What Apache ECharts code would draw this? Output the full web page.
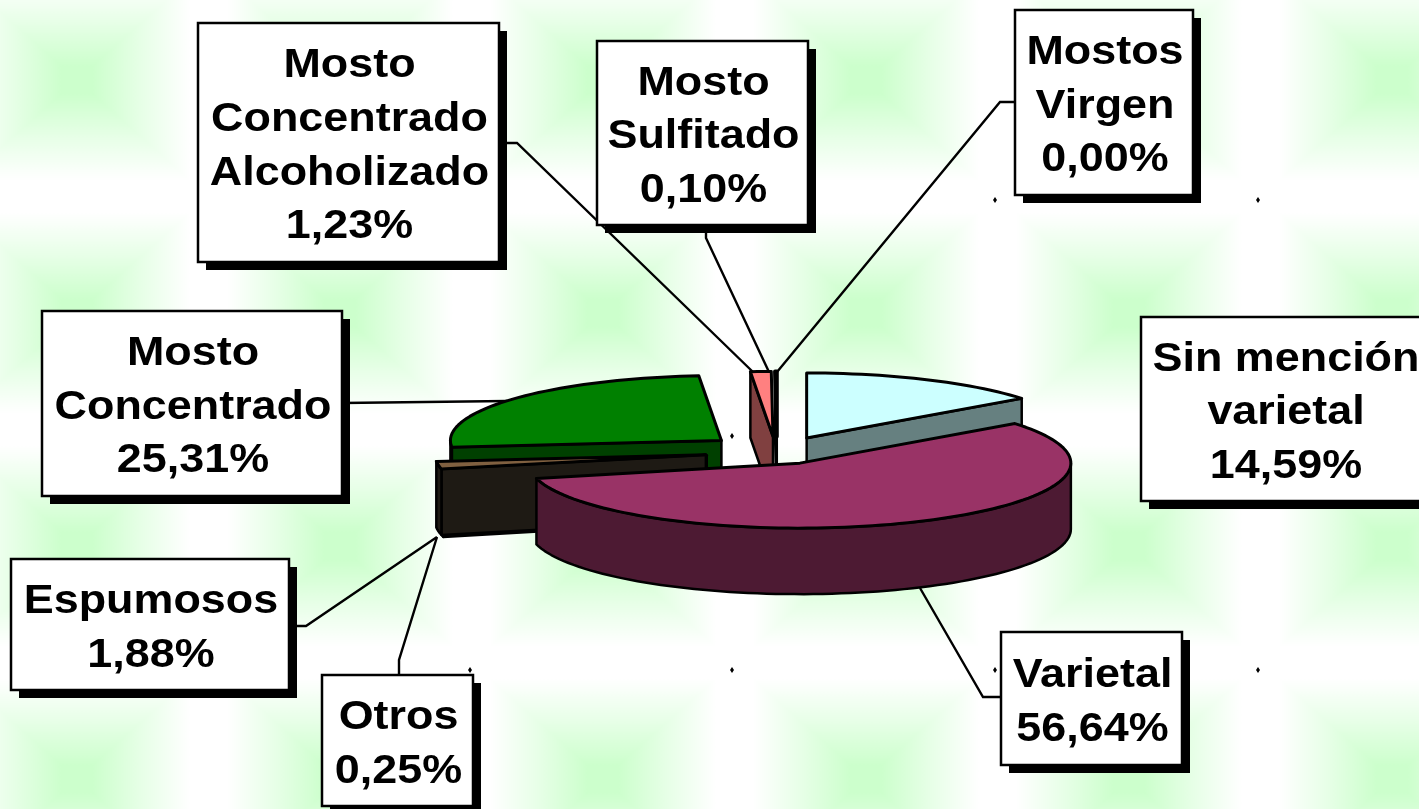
<!DOCTYPE html>
<html>
<head>
<meta charset="utf-8">
<title>Mostos</title>
<script src="https://cdn.jsdelivr.net/npm/echarts@6/dist/echarts.min.js"></script>
<style>
    html, body { margin: 0; padding: 0; overflow: hidden; }
    body {
        width: 1419px; height: 809px;
        background-color: #fff;
        background-image:
            linear-gradient(to right, #fff 7%, #e6ffe6 26%, #ccffcc 44%, #ccffcc 56%, #e6ffe6 74%, #fff 93%),
            linear-gradient(to bottom, #fff 7%, #e6ffe6 26%, #ccffcc 44%, #ccffcc 56%, #e6ffe6 74%, #fff 93%);
        background-blend-mode: lighten, normal;
        background-size: 263px 233px;
        background-position: -54.5px -36.5px;
    }
    #main { width: 1419px; height: 809px; }
</style>
</head>
<body>
<div id="main"></div>
<script>
    // datos, en el orden de la torta (desde las 12 en sentido horario)
    var categories = ['Sin mención\nvarietal', 'Varietal', 'Otros', 'Espumosos', 'Mosto\nConcentrado',
        'Mosto\nConcentrado\nAlcoholizado', 'Mosto\nSulfitado', 'Mostos\nVirgen'];
    var values = [14.59, 56.64, 0.25, 1.88, 25.31, 1.23, 0.10, 0.00];
    var topColors = ['#ccffff', '#993366', '#996633', '#806040', '#008000', '#ff8080', '#000000', '#000000'];
    var wallColors = ['#668080', '#4d1a33', '#1e1a14', '#1e1a14', '#004000', '#804040', '#000000', '#000000'];
    var drawOrder = [2, 8, 6, 7, 1, 3, 4, 5];
    // ajuste fino de cada porcion respecto a la explosion calculada
    var nudgeX = [5, -1, 0, 0, 1, 4, 5, 0];
    var nudgeY = [0, 0, 2, 2, -1, 0, 0, 0];

    // cajas de etiquetas [x0, y0, x1, y1] y lineas guia
    var boxes = [
        [1141, 317, 1429, 501], [1001, 632, 1182, 765], [322, 675, 473, 806], [11, 559, 289, 690],
        [42, 311, 342, 496], [198, 23, 499, 262], [597, 41, 808, 225], [1015, 10, 1193, 195]
    ];
    var leaders = [
        null,
        [[1001, 697], [983, 697], [920, 588]],
        [[399, 675], [399, 660], [437, 537]],
        [[296, 626], [306, 626], [437, 537]],
        [[342, 403], [507, 401]],
        [[499, 143], [517, 143], [753, 372]],
        [[706, 225], [706, 238], [769, 372]],
        [[1015, 102], [1000, 102], [777, 372]]
    ];
    var dots = [[995, 200], [1258, 200], [732, 436], [470, 670], [732, 670], [995, 670], [1258, 670]];

    var CX = 772, CY = 450.5, RX = 271, RY = 65, H = 66, EX = 67, EY = 14;
    var SHADOW = 8;
    var FONT = 'bold 41px "Liberation Sans", Arial, sans-serif';
    var total = values.reduce(function (a, b) { return a + b; }, 0);

    function rad(d) { return d * Math.PI / 180; }

    function renderItem(params, api) {
        var i = params.dataIndex;
        var val = api.value(0);
        var before = 0;
        for (var k = 0; k < i; k++) before += values[k];
        var a0 = before / total * 360, a1 = (before + val) / total * 360, mid = (a0 + a1) / 2;
        var ox = CX + EX * Math.sin(rad(mid)) + nudgeX[i], oy = CY - EY * Math.cos(rad(mid)) + nudgeY[i];

        function pt(a, dz) {
            return [ox + RX * Math.sin(rad(a)), oy - RY * Math.cos(rad(a)) + (dz || 0)];
        }
        function arc(from, to, dz) {
            var out = [], n = Math.max(2, Math.ceil(Math.abs(to - from) / 2));
            for (var j = 0; j <= n; j++) out.push(pt(from + (to - from) * j / n, dz));
            return out;
        }

        var z = drawOrder[i] * 10;
        var children = [];
        function poly(points, fill, width, zz) {
            children.push({
                type: 'polygon', z2: zz, shape: {points: points},
                style: {fill: fill, stroke: '#000', lineWidth: width, lineJoin: 'round'}
            });
        }

        if (val > 0) {
            var apex = [ox, oy], apexB = [ox, oy + H];
            if (Math.sin(rad(a0)) < 0) poly([apex, pt(a0), pt(a0, H), apexB], wallColors[i], 2.5, z);
            if (Math.sin(rad(a1)) > 0) poly([apex, pt(a1), pt(a1, H), apexB], wallColors[i], 2.5, z);
            var w0 = Math.max(a0, 90), w1 = Math.min(a1, 270);
            if (w1 > w0) {
                poly(arc(w0, w1, 0).concat(arc(w1, w0, H)), wallColors[i], 2.5, z + 1);
            }
            poly([apex].concat(arc(a0, a1, 0)), topColors[i], i === 6 ? 4 : 3, z + 2);
        }

        // linea guia, por debajo de la torta
        if (leaders[i]) {
            children.push({
                type: 'polyline', z2: 1, shape: {points: leaders[i]},
                style: {fill: null, stroke: '#000', lineWidth: 2.4}
            });
        }

        // caja con sombra y texto
        var b = boxes[i];
        children.push({
            type: 'rect', z2: 100,
            shape: {x: b[0] + SHADOW, y: b[1] + SHADOW, width: b[2] - b[0], height: b[3] - b[1]},
            style: {fill: '#000'}
        });
        children.push({
            type: 'rect', z2: 101,
            shape: {x: b[0], y: b[1], width: b[2] - b[0], height: b[3] - b[1]},
            style: {fill: '#fff', stroke: '#000', lineWidth: 2.5}
        });
        children.push({
            type: 'text', z2: 102, x: (b[0] + b[2]) / 2 + 1, y: (b[1] + b[3]) / 2 + 4, scaleX: 1.095,
            style: {
                text: categories[i] + '\n' + val.toFixed(2).replace('.', ',') + '%',
                font: FONT, fill: '#000', align: 'center', verticalAlign: 'middle', lineHeight: 53.6
            }
        });
        return {type: 'group', children: children};
    }

    var chart = echarts.init(document.getElementById('main'));
    chart.setOption({
        backgroundColor: 'transparent',
        animation: false,
        graphic: dots.map(function (d) {
            return {
                type: 'polygon', z: 0,
                shape: {points: [[d[0], d[1] - 3], [d[0] + 2, d[1]], [d[0], d[1] + 3], [d[0] - 2, d[1]]]},
                style: {fill: '#000'}
            };
        }),
        series: [{
            type: 'custom',
            coordinateSystem: 'none',
            renderItem: renderItem,
            clip: false,
            data: values.map(function (v) { return [v]; })
        }]
    });
</script>
</body>
</html>
